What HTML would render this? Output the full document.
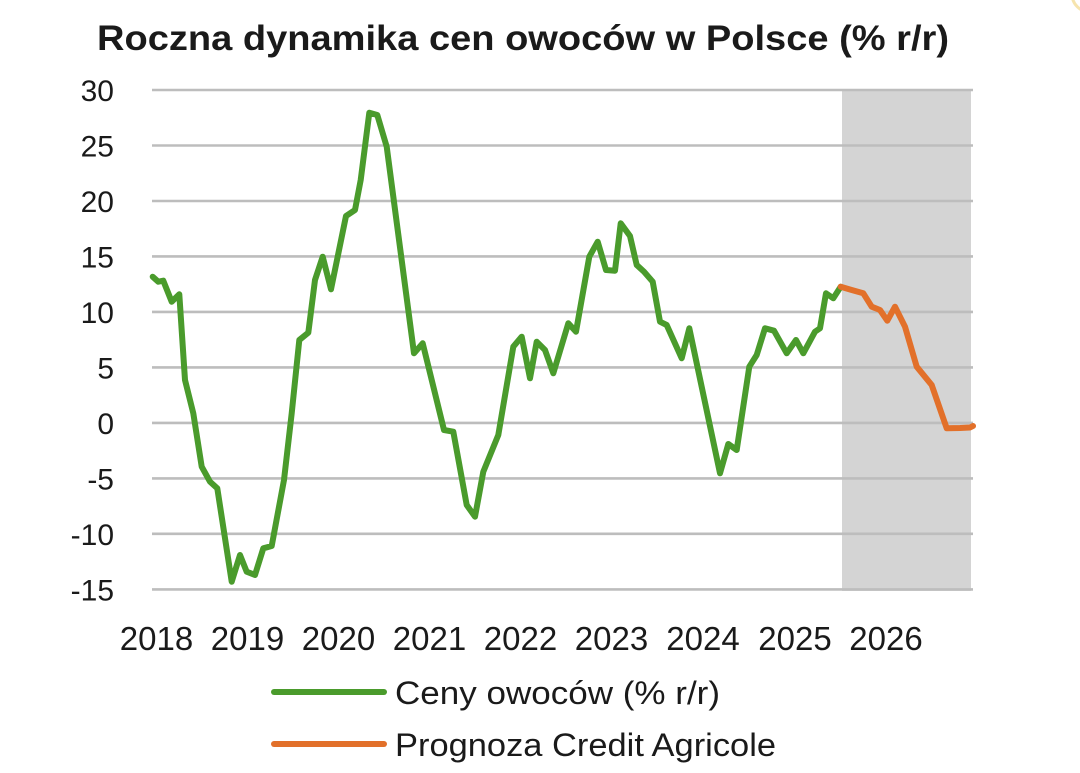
<!DOCTYPE html>
<html>
<head>
<meta charset="utf-8">
<style>
  html,body{margin:0;padding:0;background:#fff;}
  body{width:1080px;height:773px;overflow:hidden;}
  svg{display:block;}
  text{font-family:"Liberation Sans",sans-serif;fill:#1a1a1a;}
</style>
</head>
<body>
<svg width="1080" height="773" viewBox="0 0 1080 773" xmlns="http://www.w3.org/2000/svg">
  <rect x="0" y="0" width="1080" height="773" fill="#ffffff"/>
  <!-- corner blob -->
  <circle cx="1090" cy="-6" r="18" fill="none" stroke="#f2d88a" stroke-width="3" opacity="0.7"/>

  <!-- title -->
  <text x="97" y="50" font-size="35" font-weight="bold" textLength="852" lengthAdjust="spacingAndGlyphs">Roczna dynamika cen owoców w Polsce (% r/r)</text>

  <!-- shaded forecast region -->
  <rect x="842" y="90" width="129" height="501" fill="#d4d4d4"/>

  <!-- gridlines -->
  <g stroke="#bdbdbd" stroke-width="2.6">
    <line x1="152" y1="90" x2="973" y2="90"/>
    <line x1="152" y1="145.5" x2="973" y2="145.5"/>
    <line x1="152" y1="201" x2="973" y2="201"/>
    <line x1="152" y1="256.4" x2="973" y2="256.4"/>
    <line x1="152" y1="311.9" x2="973" y2="311.9"/>
    <line x1="152" y1="367.4" x2="973" y2="367.4"/>
    <line x1="152" y1="422.9" x2="973" y2="422.9"/>
    <line x1="152" y1="478.4" x2="973" y2="478.4"/>
    <line x1="152" y1="533.8" x2="973" y2="533.8"/>
    <line x1="152" y1="589.4" x2="973" y2="589.4"/>
  </g>

  <!-- y labels -->
  <g font-size="30" text-anchor="end">
    <text x="114" y="101">30</text>
    <text x="114" y="156.5">25</text>
    <text x="114" y="212">20</text>
    <text x="114" y="267.5">15</text>
    <text x="114" y="323">10</text>
    <text x="114" y="378.5">5</text>
    <text x="114" y="434">0</text>
    <text x="114" y="489.5">-5</text>
    <text x="114" y="545">-10</text>
    <text x="114" y="600.5">-15</text>
  </g>

  <!-- x labels -->
  <g font-size="33" text-anchor="middle">
    <text x="156.5" y="650">2018</text>
    <text x="247.5" y="650">2019</text>
    <text x="338.5" y="650">2020</text>
    <text x="429.5" y="650">2021</text>
    <text x="520.5" y="650">2022</text>
    <text x="611.5" y="650">2023</text>
    <text x="703" y="650">2024</text>
    <text x="795" y="650">2025</text>
    <text x="886" y="650">2026</text>
  </g>

  <!-- green series -->
  <polyline fill="none" stroke="#4a9b2c" stroke-width="6" stroke-linejoin="round" stroke-linecap="round"
    points="152.7,276.7 158.3,281.7 163.3,280.7 171.7,301.7 179.3,294.3 185,380 193.3,413.3 201.7,466.7 210,481.7 217.3,488.3 231.7,581.7 240,555 246.7,571.7 255,575 263.3,548.3 271.7,546 284,480 291.7,413.3 299.3,340 308.3,332.7 315,280 322.7,256.7 331,289.3 346,216 355,210 360.7,180 369.3,112.7 377.3,115 386.7,146.7 414,353.3 422.7,343.3 444,430 453.3,431.7 466.7,505 475,516.7 483.3,471.7 498.3,435 513.3,346.7 521.7,336.7 530,378.3 536.7,341.7 545,350 553.3,373.3 568.3,323.3 576,331.7 589.3,256.7 597.7,241.7 606,270 615,270.7 620.7,223.3 630,236 636.7,265 644,271.7 652.7,281.7 660,321.7 666.7,325 681.7,358.3 689.3,328.3 720,473.3 728.3,444 736.7,450 749.3,366.7 756.7,355 765,328.3 774,330.7 786.7,353.3 796,340 803.3,353.3 815,331.7 820,328.3 826,293.3 833.3,298.3 840.7,286.7"/>

  <!-- orange series -->
  <polyline fill="none" stroke="#e2702a" stroke-width="6" stroke-linejoin="round" stroke-linecap="round"
    points="840.7,286.7 851.7,290 863.3,293.3 871.7,306.7 880,310 887.3,320.7 895,306.7 905,326.7 916.7,366.7 931.7,385 946.7,428.3 960,428 970,427.5 973,426"/>

  <!-- legend -->
  <line x1="274" y1="692" x2="384" y2="692" stroke="#4a9b2c" stroke-width="6" stroke-linecap="round"/>
  <line x1="274" y1="744" x2="384" y2="744" stroke="#e2702a" stroke-width="6" stroke-linecap="round"/>
  <text x="395" y="704" font-size="32" textLength="325" lengthAdjust="spacingAndGlyphs">Ceny owoców (% r/r)</text>
  <text x="395" y="756" font-size="32" textLength="381" lengthAdjust="spacingAndGlyphs">Prognoza Credit Agricole</text>
</svg>
</body>
</html>
